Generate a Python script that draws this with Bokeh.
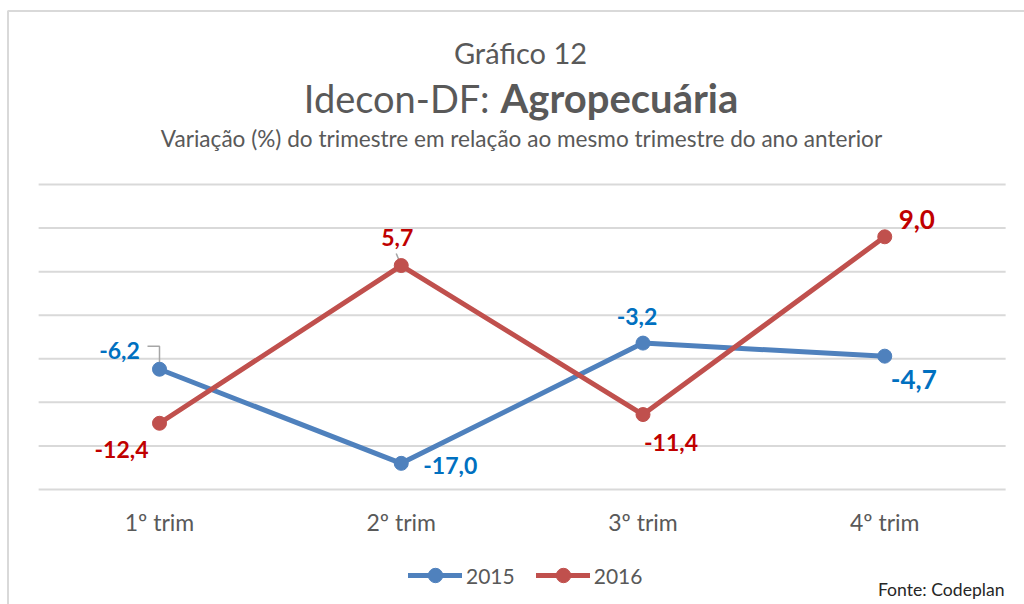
from bokeh.plotting import figure
from bokeh.models import ColumnDataSource, Range1d, Legend, LegendItem
from bokeh.core.properties import value
from bokeh.embed import file_html
from bokeh.resources import INLINE

# ---- data ----
categories = ["1º trim", "2º trim", "3º trim", "4º trim"]
values_2015 = [-6.2, -17.0, -3.2, -4.7]
values_2016 = [-12.4, 5.7, -11.4, 9.0]
series_names = ["2015", "2016"]
y_ticks = [-20, -15, -10, -5, 0, 5, 10, 15]

FONT = "Lato"
GRAY = "#595959"
BLUE_LINE = "#4f81bd"
RED_LINE = "#c0504d"
BLUE_TXT = "#0070c0"
RED_TXT = "#c00000"

W, H = 1024, 604
# layout geometry (pixels)
PXX = 241.75          # pixels per category
X0_PX = 159           # centre of first category
PXY = 305 / 35.0      # pixels per y unit
TOP_PX = 184          # pixel row of top gridline (y = 15)

x_start = -X0_PX / PXX
x_end = x_start + W / PXX
y_end = max(y_ticks) + TOP_PX / PXY
y_start = y_end - H / PXY

def X(px):
    return x_start + px / PXX

def Y(py):
    return y_end - py / PXY

xs = list(range(len(categories)))

p = figure(width=W, height=H, x_range=Range1d(x_start, x_end), y_range=Range1d(y_start, y_end),
           output_backend="svg", toolbar_location=None, min_border=0)
p.axis.visible = False
p.grid.visible = False
p.outline_line_color = None
p.background_fill_color = "white"
p.border_fill_color = "white"

# ---- outer chart border ----
p.line([X(7.5), X(7.5), X(W)], [Y(H), Y(10.5), Y(10.5)], line_color="#d9d9d9", line_width=2)

# ---- gridlines ----
p.segment(x0=[xs[0] - 0.5] * len(y_ticks), x1=[xs[-1] + 0.5] * len(y_ticks),
          y0=y_ticks, y1=y_ticks, line_color="#d9d9d9", line_width=2)

# ---- category labels (x axis) ----
p.text(x=xs, y=[Y(521)] * len(xs), text=categories, text_font=value(FONT), text_font_size="23px",
       text_color=GRAY, text_align="center", text_baseline="middle")

def fmt(v):
    return f"{v:.1f}".replace(".", ",")

# ---- leader lines (anchored on data points) ----
v = values_2015[0]
p.line([xs[0] - 12 / PXX, xs[0], xs[0]], [v + 23 / PXY, v + 23 / PXY, v],
       line_color="#a6a6a6", line_width=1.5)
v = values_2016[1]
p.line([xs[1] - 5 / PXX, xs[1]], [v + 12 / PXY, v], line_color="#a6a6a6", line_width=1.5)

# ---- series ----
r1l = p.line(xs, values_2015, line_width=5, color=BLUE_LINE, line_join="round", line_cap="round")
r1s = p.scatter(xs, values_2015, size=14, color=BLUE_LINE)
r2l = p.line(xs, values_2016, line_width=5, color=RED_LINE, line_join="round", line_cap="round")
r2s = p.scatter(xs, values_2016, size=14, color=RED_LINE)

# ---- data labels ----
lbl = ColumnDataSource(dict(
    x=xs + xs,
    y=values_2015 + values_2016,
    text=[fmt(a) for a in values_2015] + [fmt(a) for a in values_2016],
    color=[BLUE_TXT] * 4 + [RED_TXT] * 4,
    size=["23px", "23px", "23px", "26px", "23px", "23px", "23px", "26px"],
    dx=[-40, 49, -6, 29, -38, -4, 28, 32],
    dy=[-19, 2, -27, 23, 26, -28, 28, -17],
))
p.text(x="x", y="y", text="text", source=lbl, text_color="color", text_font_size="size",
       text_font=value(FONT), text_font_style="bold", text_align="center",
       text_baseline="middle", x_offset="dx", y_offset="dy")

# ---- titles ----
p.text(x=[X(520)], y=[Y(52)], text=["Gráfico 12"], text_font=value(FONT), text_font_size="29px",
       text_color=GRAY, text_align="center", text_baseline="middle")
p.text(x=[X(489)], y=[Y(97)], text=["Idecon-DF:"], text_font=value(FONT), text_font_size="38px",
       text_color=GRAY, text_align="right", text_baseline="middle")
p.text(x=[X(500)], y=[Y(97)], text=["Agropecuária"], text_font=value(FONT), text_font_size="40px",
       text_font_style="bold", text_color=GRAY, text_align="left", text_baseline="middle")
p.text(x=[X(521)], y=[Y(138)],
       text=["Variação (%) do trimestre em relação ao mesmo trimestre do ano anterior"],
       text_font=value(FONT), text_font_size="22.6px", text_color=GRAY,
       text_align="center", text_baseline="middle")
p.text(x=[X(1004)], y=[Y(589)], text=["Fonte: Codeplan"], text_font=value(FONT),
       text_font_size="17.6px", text_color="#262626", text_align="right", text_baseline="middle")

# ---- legend ----
legend = Legend(items=[LegendItem(label=series_names[0], renderers=[r1l, r1s]),
                       LegendItem(label=series_names[1], renderers=[r2l, r2s])],
                orientation="horizontal", location=(408, 11),
                label_text_font=FONT, label_text_font_size="21px", label_text_color=GRAY,
                glyph_width=54, glyph_height=36, label_standoff=4, spacing=21,
                padding=0, margin=0, border_line_color=None, background_fill_alpha=0)
p.add_layout(legend, "center")

open("out.html", "w").write(file_html(p, INLINE))
